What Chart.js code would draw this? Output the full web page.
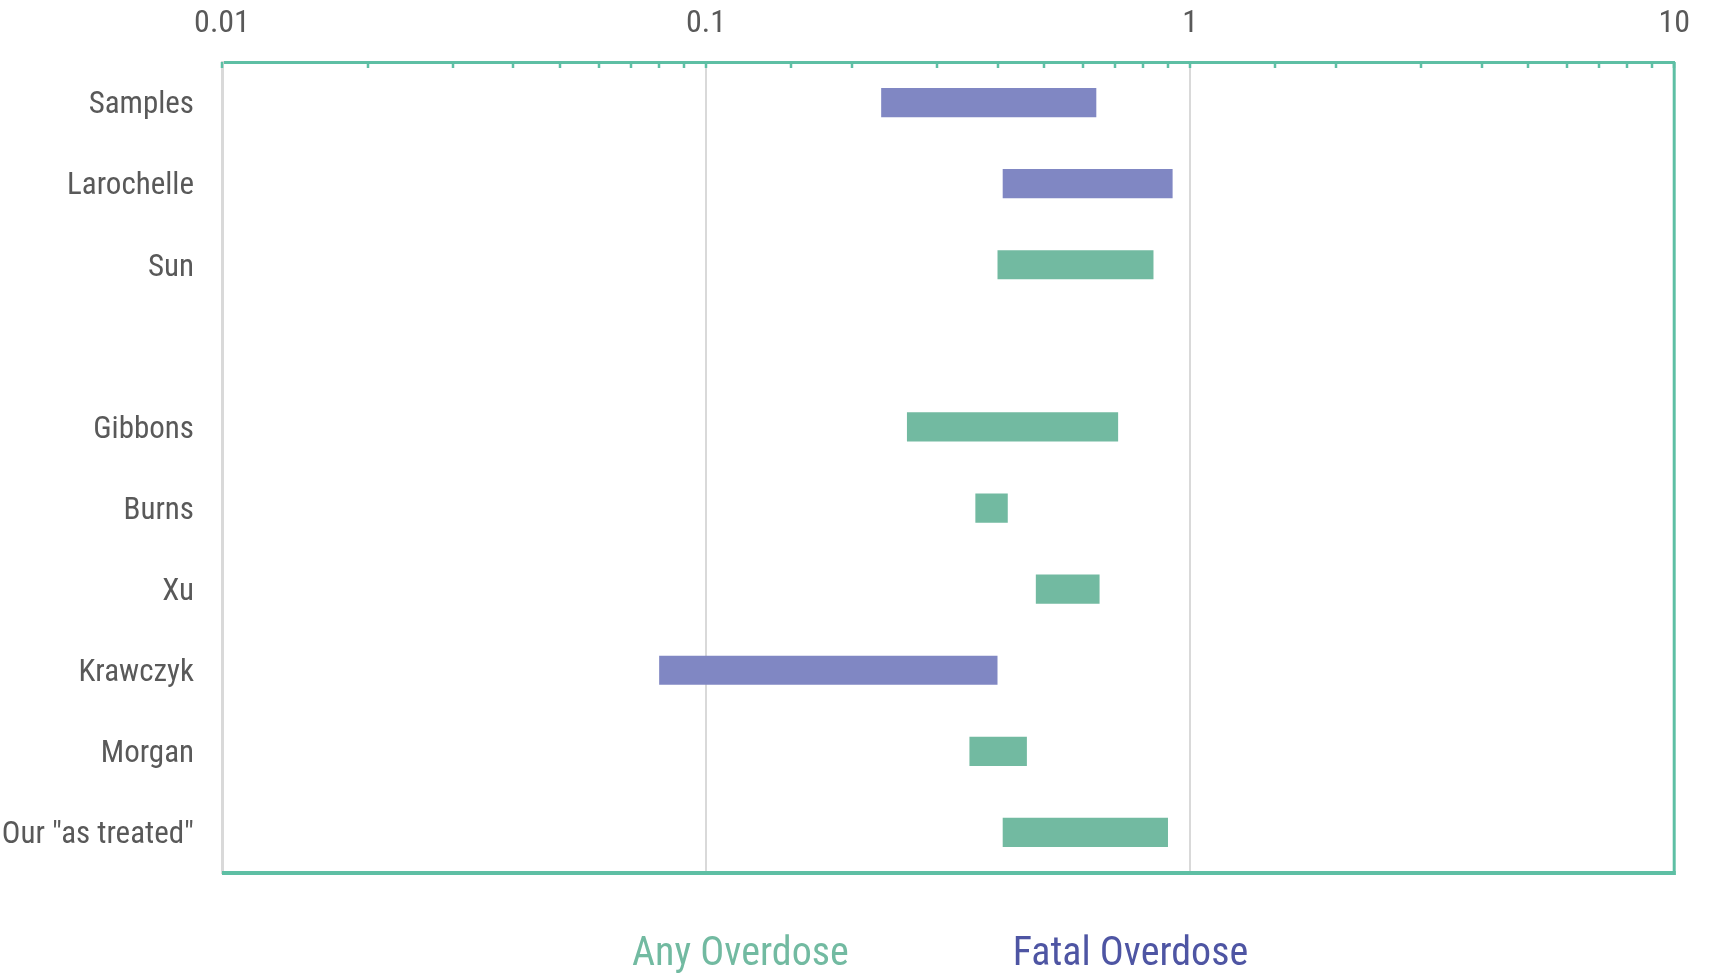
<!DOCTYPE html>
<html>
<head>
<meta charset="utf-8">
<script src="https://cdn.jsdelivr.net/npm/chart.js@4/dist/chart.umd.min.js"></script>
<style>
  html, body { margin: 0; padding: 0; background: #ffffff; }
  #wrap { width: 1709px; height: 974px; }
</style>
</head>
<body>
<div id="wrap"><canvas id="chart" width="1709" height="974"></canvas></div>
<script>
// Studies, top to bottom (the blank entry separates the two groups)
const studies = ['Samples', 'Larochelle', 'Sun', '', 'Gibbons', 'Burns', 'Xu', 'Krawczyk', 'Morgan', 'Our "as treated"'];

// Interval bounds per study (null where the study has no estimate for that outcome)
const anyOverdoseLow   = [null, null, 0.40, null, 0.26, 0.36, 0.48, null, 0.35, 0.41];
const anyOverdoseHigh  = [null, null, 0.84, null, 0.71, 0.42, 0.65, null, 0.46, 0.90];
const fatalOverdoseLow  = [0.23, 0.41, null, null, null, null, null, 0.08, null, null];
const fatalOverdoseHigh = [0.64, 0.92, null, null, null, null, null, 0.40, null, null];

const seriesNames = ['Any Overdose', 'Fatal Overdose'];

// Labelled decades on the log axis
const decadeTicks  = [0.01, 0.1, 1, 10];
const decadeLabels = ['0.01', '0.1', '1', '10'];

const GREEN_BAR = '#72BAA1';
const BLUE_BAR = '#8087C3';
const AXIS_GREEN = '#5EBFA4';
const LEGEND_COLORS = ['#72BAA1', '#4E55A3'];
const TEXT = '#595959';
const FONT = "'Liberation Sans Narrow', 'Arial Narrow', 'Roboto Condensed', 'DejaVu Sans Condensed', sans-serif";

const toRanges = (lo, hi) => lo.map((v, i) => (v == null || hi[i] == null) ? null : [v, hi[i]]);
const decadeIndex = v => decadeTicks.findIndex(d => Math.abs(v / d - 1) < 1e-6);

// Right/bottom frame, inner tick marks and the coloured legend text
const framePlugin = {
  id: 'frame',
  afterDraw(chart) {
    const { ctx, chartArea: a } = chart;
    const xs = chart.scales.x;
    ctx.save();
    ctx.strokeStyle = AXIS_GREEN;
    ctx.lineCap = 'butt';
    // right edge
    ctx.lineWidth = 3;
    ctx.beginPath();
    ctx.moveTo(a.right, a.top);
    ctx.lineTo(a.right, a.bottom + 2);
    ctx.stroke();
    // bottom edge
    ctx.lineWidth = 4;
    ctx.beginPath();
    ctx.moveTo(a.left, a.bottom);
    ctx.lineTo(a.right + 1.5, a.bottom);
    ctx.stroke();
    // tick marks pointing into the plot
    ctx.lineWidth = 2.5;
    xs.ticks.forEach(t => {
      const px = Math.round(xs.getPixelForValue(t.value));
      ctx.beginPath();
      ctx.moveTo(px, a.top);
      ctx.lineTo(px, a.top + 6);
      ctx.stroke();
    });
    // legend: coloured series names under the plot
    ctx.font = '40px ' + FONT;
    ctx.textBaseline = 'middle';
    ctx.textAlign = 'left';
    const gap = 164;
    const widths = seriesNames.map(n => ctx.measureText(n).width);
    const total = widths[0] + gap + widths[1];
    let x = (a.left + a.right) / 2 - total / 2 - 8;
    const y = a.bottom + 82;
    seriesNames.forEach((n, i) => {
      ctx.fillStyle = LEGEND_COLORS[i];
      ctx.fillText(n, x, y);
      x += widths[i] + gap;
    });
    ctx.restore();
  }
};

new Chart(document.getElementById('chart'), {
  type: 'bar',
  data: {
    labels: studies,
    datasets: [
      {
        label: seriesNames[0],
        data: toRanges(anyOverdoseLow, anyOverdoseHigh),
        backgroundColor: GREEN_BAR,
        borderWidth: 0,
        grouped: false,
        categoryPercentage: 1,
        barPercentage: 0.36
      },
      {
        label: seriesNames[1],
        data: toRanges(fatalOverdoseLow, fatalOverdoseHigh),
        backgroundColor: BLUE_BAR,
        borderWidth: 0,
        grouped: false,
        categoryPercentage: 1,
        barPercentage: 0.36
      }
    ]
  },
  options: {
    indexAxis: 'y',
    responsive: false,
    animation: false,
    layout: { padding: { left: 0, top: 0, right: 28, bottom: 101 } },
    plugins: {
      legend: { display: false },
      tooltip: { enabled: false }
    },
    scales: {
      x: {
        type: 'logarithmic',
        position: 'top',
        min: 0.01,
        max: 10,
        afterFit: s => { s.height = 62; },
        border: { display: true, color: AXIS_GREEN, width: 3 },
        grid: {
          drawTicks: false,
          lineWidth: 2,
          color: c => (c.tick && decadeIndex(c.tick.value) >= 0) ? '#D9D9D9' : 'rgba(0,0,0,0)'
        },
        ticks: {
          autoSkip: false,
          maxRotation: 0,
          padding: 19,
          color: TEXT,
          font: { family: FONT, size: 32 },
          callback: v => {
            const i = decadeIndex(v);
            return i >= 0 ? decadeLabels[i] : '';
          }
        }
      },
      y: {
        type: 'category',
        afterFit: s => { s.width = 222; },
        border: { display: true, color: '#D9D9D9', width: 3 },
        grid: { display: false, drawTicks: false },
        ticks: {
          padding: 28,
          labelOffset: 3,
          color: TEXT,
          font: { family: FONT, size: 31 }
        }
      }
    }
  },
  plugins: [framePlugin]
});
</script>
</body>
</html>
